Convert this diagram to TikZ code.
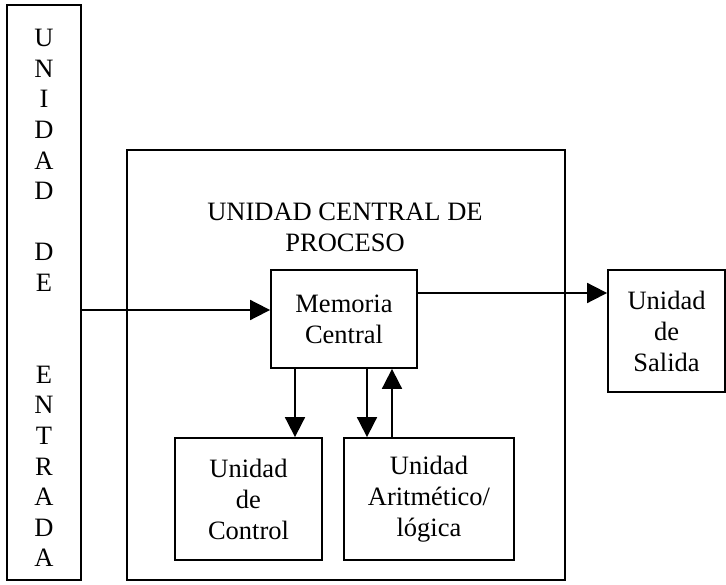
\documentclass[tikz,border=0pt]{standalone}
\usepackage{fontspec}
\setmainfont{Liberation Serif}
\usetikzlibrary{arrows.meta,positioning}
\tikzset{
	unitbox/.style={rectangle, draw, line width=1.8pt, align=center, inner sep=0pt},
	flecha/.style={-{Triangle[length=20pt,width=20pt]}, line width=1.8pt}
}

\begin{document}
\begin{tikzpicture}[x=1pt,y=-1pt,font=\fontsize{26.5}{31}\selectfont]
	\useasboundingbox (0,0) rectangle (726,585);
	% cajas
	\node[unitbox, minimum width=74pt, minimum height=575pt] (entrada) at (44,292.5) {};
	\node[unitbox, minimum width=438pt, minimum height=430pt] (cpu) at (346,365) {};
	\node[align=center] (titulo) at (345,227) {UNIDAD CENTRAL DE\\PROCESO};
	\node[unitbox, minimum width=146pt, minimum height=98pt] (memoria) at (344,319) {Memoria\\Central};
	\node[unitbox, minimum width=147pt, minimum height=122pt] (control) at (248.5,499) {Unidad\\de\\Control};
	\node[unitbox, minimum width=170pt, minimum height=122pt] (alu) at (429,499) {Unidad\\Aritmético/\\lógica};
	\node[unitbox, minimum width=117pt, minimum height=122pt] (salida) at (666.5,331) {Unidad\\de\\Salida};
	% letras de la unidad de entrada
	\foreach \letra [count=\i from 0] in {U,N,I,D,A,D,{},D,E,{},{},E,N,T,R,A,D,A}
		\node (letra\i) at (44,38+\i*30.6) {\letra};
	% conexiones
	\coordinate (yin) at (0,310);
	\coordinate (yout) at (0,293);
	\coordinate (xa) at (295,0);
	\coordinate (xb) at (367,0);
	\coordinate (xc) at (392,0);
	\draw[flecha] (entrada.east |- yin) -- (memoria.west |- yin);
	\draw[flecha] (memoria.east |- yout) -- (salida.west |- yout);
	\draw[flecha] (memoria.south -| xa) -- (control.north -| xa);
	\draw[flecha] (memoria.south -| xb) -- (alu.north -| xb);
	\draw[flecha] (alu.north -| xc) -- (memoria.south -| xc);
\end{tikzpicture}
\end{document}
